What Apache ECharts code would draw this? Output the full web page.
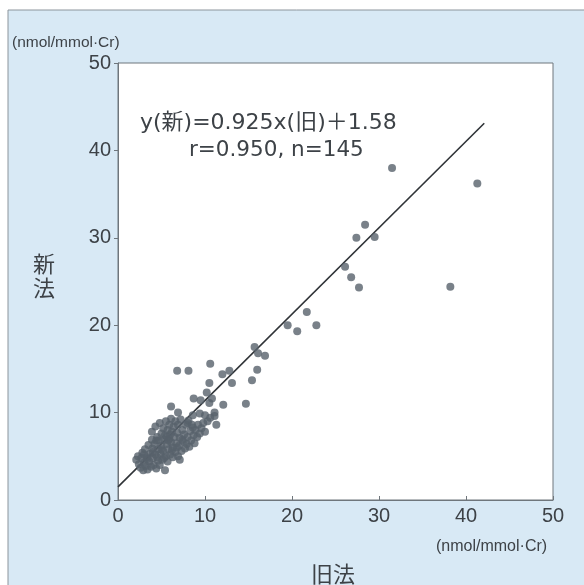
<!DOCTYPE html>
<html>
<head>
<meta charset="utf-8">
<script src="https://cdn.jsdelivr.net/npm/echarts@6/dist/echarts.min.js"></script>
<style>
    html, body { margin: 0; padding: 0; background: #ffffff; }
    #main { width: 584px; height: 585px; }
</style>
</head>
<body>
<div id="main"></div>
<script>
// 旧法 (x) / 新法 (y) 測定値
var oldMethod = [
    31.5, 41.3, 38.2, 28.4, 27.4, 29.5, 26.1, 26.8, 27.7,
    21.7, 19.5, 20.6, 22.8,
    15.7, 16.1, 16.9, 16.0, 15.4, 13.1, 12.0, 12.8, 10.6, 8.1, 6.8, 10.5,
    10.2, 8.7, 9.5, 10.8, 10.5, 12.1, 14.7, 11.1, 11.1, 11.3, 6.1, 6.9, 10.0, 8.6, 9.4, 8.0, 8.6,
    2.1, 2.3, 2.4, 2.6, 2.7, 2.8, 2.9, 3.0,
    3.1, 3.2, 3.3, 3.4, 3.5, 3.6, 3.7, 3.8, 3.9, 3.9, 4.0, 3.95,
    4.1, 4.2, 4.3, 4.3, 4.4, 4.5, 4.6, 4.6, 4.7, 4.8, 4.8, 4.9, 5.0, 5.0,
    5.1, 5.2, 5.2, 5.3, 5.4, 5.4, 5.5, 5.5, 5.6, 5.7, 5.7, 5.8, 5.9, 5.9, 6.0,
    6.1, 6.1, 6.2, 6.3, 6.3, 6.4, 6.5, 6.6, 6.6, 6.7, 6.8, 6.9, 6.9,
    7.0, 7.1, 7.1, 7.2, 7.3, 7.4, 7.5, 7.6, 7.7, 7.8, 7.9,
    8.0, 8.1, 8.2, 8.3, 8.4, 8.5, 8.7, 8.8, 8.9,
    9.1, 9.2, 9.4, 9.6, 9.8, 10.0, 10.3, 10.6,
    3.4, 4.0, 4.5, 5.0, 5.3, 5.8, 6.2, 6.8, 4.4, 3.0, 7.4, 6.0, 5.6
];
var newMethod = [
    38.0, 36.2, 24.4, 31.5, 30.0, 30.1, 26.7, 25.5, 24.3,
    21.5, 20.0, 19.3, 20.0,
    17.5, 16.8, 16.5, 14.9, 13.7, 13.4, 14.4, 14.8, 15.6, 14.8, 14.8, 13.4,
    12.3, 11.6, 11.4, 11.6, 11.1, 10.9, 11.0, 10.0, 9.6, 8.6, 10.7, 10.0, 9.7, 9.7, 9.9, 8.8, 8.3,
    4.6, 5.0, 4.1, 3.7, 4.8, 5.4, 3.4, 4.3,
    5.8, 3.9, 4.9, 3.5, 6.3, 4.4, 5.3, 3.8, 6.9, 7.8, 4.8, 5.9,
    4.0, 6.4, 8.4, 5.2, 3.6, 7.2, 4.5, 5.8, 6.8, 8.8, 4.0, 5.3, 7.6, 6.2,
    4.6, 8.2, 5.6, 6.9, 3.4, 7.4, 9.0, 5.0, 6.4, 8.0, 4.4, 5.8, 7.0, 8.6, 5.2,
    6.6, 9.3, 7.8, 4.9, 6.0, 8.4, 7.2, 5.5, 9.0, 6.5, 7.7, 5.0, 8.6,
    6.2, 7.1, 4.6, 9.2, 5.6, 8.0, 6.7, 7.5, 5.9, 8.6, 6.4,
    7.2, 9.1, 6.1, 7.9, 6.8, 8.6, 7.4, 6.5, 8.0,
    7.2, 8.6, 7.6, 8.2, 8.8, 7.8, 9.0, 9.4,
    4.7, 5.5, 4.9, 5.8, 4.8, 6.8, 5.7, 6.0, 6.8, 5.2, 6.9, 7.5, 7.2
];
// 回帰直線 (図上の端点)
var lineX = [0, 42.1];
var lineY = [1.5, 43.1];
var axisTicks = [0, 10, 20, 30, 40, 50];

var points = oldMethod.map(function (x, i) { return [x, newMethod[i]]; });
var lineData = lineX.map(function (x, i) { return [x, lineY[i]]; });

var latin = "'Liberation Sans', 'Noto Sans CJK JP', sans-serif";
var wide = "'DejaVu Sans', 'Noto Sans CJK JP', sans-serif";
var textColor = "#3d4247";

var myChart = echarts.init(document.getElementById("main"));
var options = {
    animation: false,
    graphic: [
        {
            type: "rect",
            z: -10,
            shape: { x: 8, y: 10, width: 600, height: 600 },
            style: { fill: "#d8e9f5", stroke: "#8c959c", lineWidth: 1 }
        },
        {
            type: "text", left: 12, top: 35,
            style: { text: "(nmol/mmol·Cr)", font: "15.5px " + latin, fill: textColor }
        },
        {
            type: "text", left: 436, top: 539,
            style: { text: "(nmol/mmol·Cr)", font: "16px " + latin, fill: textColor }
        },
        {
            type: "text", left: 33, top: 252,
            style: { text: "新\n法", font: "22px 'Noto Sans CJK JP'", lineHeight: 24, fill: textColor }
        },
        {
            type: "text", left: 311, top: 563,
            style: { text: "旧法", font: "22px 'Noto Sans CJK JP'", fill: textColor }
        },
        {
            type: "text", left: 140, top: 112,
            style: { text: "y(新)=0.925x(旧)＋1.58", font: "22px " + wide, fill: textColor }
        },
        {
            type: "text", left: 189, top: 140,
            style: { text: "r=0.950, n=145", font: "21.5px " + wide, fill: textColor }
        }
    ],
    grid: {
        left: 118,
        right: 31,
        top: 63,
        bottom: 85,
        show: true,
        backgroundColor: "#ffffff",
        borderColor: "#6f767c",
        borderWidth: 1
    },
    xAxis: {
        type: "value",
        min: axisTicks[0],
        max: axisTicks[axisTicks.length - 1],
        interval: 10,
        splitLine: { show: false },
        axisLine: { lineStyle: { color: "#6f767c" } },
        axisTick: { inside: true, length: 4, lineStyle: { color: "#6f767c" } },
        axisLabel: { fontSize: 20, fontFamily: latin, color: textColor, margin: 6 }
    },
    yAxis: {
        type: "value",
        min: axisTicks[0],
        max: axisTicks[axisTicks.length - 1],
        interval: 10,
        splitLine: { show: false },
        axisLine: { lineStyle: { color: "#6f767c" } },
        axisTick: { length: 4, lineStyle: { color: "#6f767c" } },
        axisLabel: { fontSize: 20, fontFamily: latin, color: textColor, margin: 7 }
    },
    series: [
        {
            type: "line",
            data: lineData,
            symbol: "none",
            lineStyle: { color: "#2f3337", width: 1.6 },
            z: 3
        },
        {
            type: "scatter",
            data: points,
            symbolSize: 8,
            itemStyle: { color: "#58626c" },
            z: 4
        }
    ]
};
myChart.setOption(options);
</script>
</body>
</html>
